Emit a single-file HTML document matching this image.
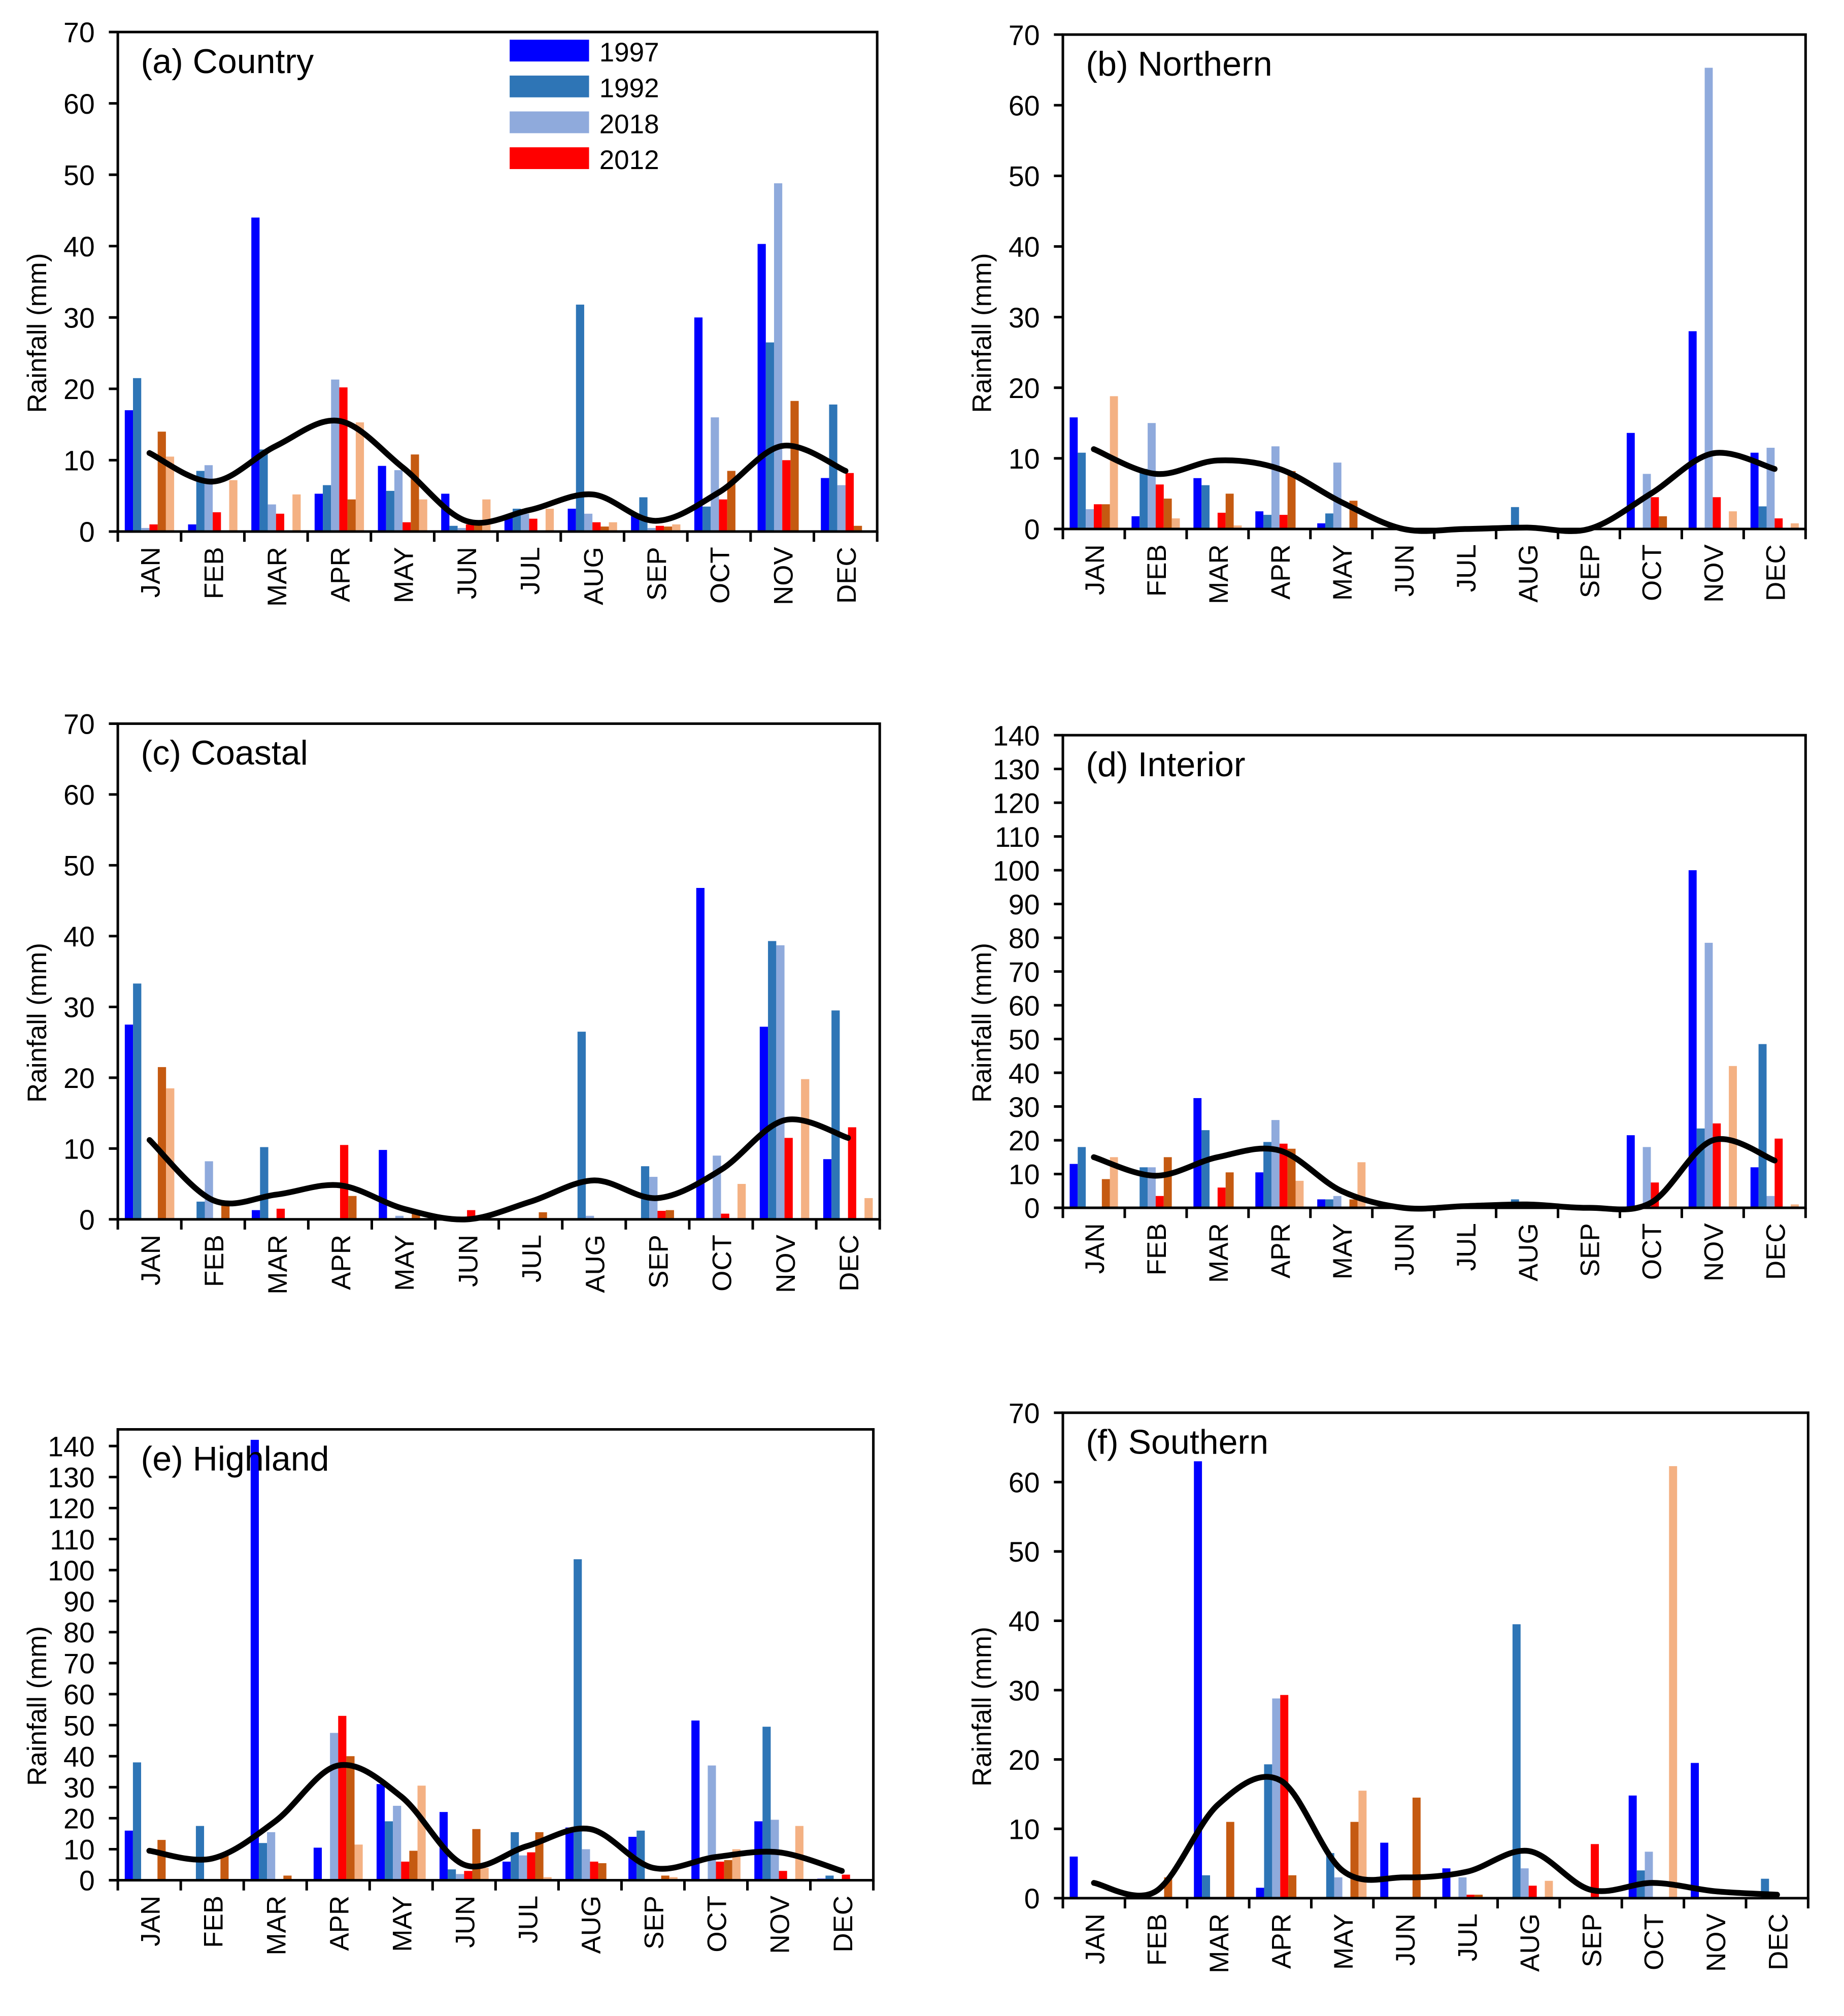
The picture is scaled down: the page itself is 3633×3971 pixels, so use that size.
<!DOCTYPE html>
<html><head><meta charset="utf-8">
<style>
html,body{margin:0;padding:0;background:#fff;}
svg{display:block;}
text{font-family:"Liberation Sans",sans-serif;fill:#000;}
</style></head>
<body>
<svg id="chart" xmlns="http://www.w3.org/2000/svg" width="3633" height="3971" viewBox="0 0 1440 1574" preserveAspectRatio="none">
<rect x="0" y="0" width="1440" height="1574" fill="#fff"/>
</svg>
<script>
const months = ["JAN","FEB","MAR","APR","MAY","JUN","JUL","AUG","SEP","OCT","NOV","DEC"];
const seriesColors = ["#0000FF","#2E75B6","#8FAADC","#FF0000","#C55A11","#F4B183"];
const legendLabels = ["1997","1992","2018","2012"];
const panelTitles = ["(a) Country","(b) Northern","(c) Coastal","(d) Interior","(e) Highland","(f) Southern"];

const countryBars = [[17,21.5,0.5,1,14,10.5],[1,8.5,9.3,2.7,0,7.2],[44,11.5,3.8,2.5,0,5.2],[5.3,6.5,21.3,20.2,4.5,15.3],[9.2,5.7,8.6,1.3,10.8,4.5],[5.3,0.8,0.5,1,1,4.5],[2,3.2,2.5,1.8,0,3.2],[3.2,31.8,2.5,1.3,0.7,1.3],[2.5,4.8,0.5,0.8,0.7,1],[30,3.5,16,4.5,8.5,0],[40.3,26.5,48.8,10,18.3,0],[7.5,17.8,6.5,8.2,0.8,0]];
const countryLine = [11,7,12,15.5,9,1.5,3,5.2,1.5,5.5,12,8.5];
const northernBars = [[15.8,10.8,2.8,3.5,3.5,18.8],[1.8,8.5,15,6.3,4.3,1.5],[7.2,6.2,0,2.3,5,0.5],[2.5,2,11.7,2,8.2,0],[0.8,2.2,9.4,0,4,0],[0,0,0,0,0,0],[0,0,0,0,0,0],[0,3.1,0,0,0,0],[0,0,0,0,0,0],[13.6,0,7.8,4.5,1.8,0],[28,0,65.3,4.5,0,2.5],[10.8,3.2,11.5,1.5,0,0.8]];
const northernLine = [11.3,7.8,9.7,8.5,3.8,0,0,0.2,0,5,10.7,8.5];
const coastalBars = [[27.5,33.3,0,0,21.5,18.5],[0,2.5,8.2,0,2.5,0],[1.3,10.2,0,1.5,0,0],[0,0,0,10.5,3.3,0],[9.8,0,0.5,0,1.3,0],[0,0,0,1.3,0,0],[0,0,0,0,1,0],[0,26.5,0.5,0,0,0],[0,7.5,6,1.2,1.3,0],[46.8,0,9,0.8,0,5],[27.2,39.3,38.7,11.5,0,19.8],[8.5,29.5,0,13,0,3]];
const coastalLine = [11.2,2.7,3.5,4.8,1.5,0,2.5,5.5,3,7,14,11.5];
const interiorBars = [[13,18,0,0,8.5,15],[0,12,12,3.5,15,0],[32.5,23,0,6,10.5,0],[10.5,19.5,26,19,17.5,8],[2.5,2.5,3.5,0,2.5,13.5],[0,0,0,0,0,0],[0,0,0,0,0,0],[0,2.5,0,0,0,0],[0,0,0,0,0,0],[21.5,0,18,7.5,0,0],[100,23.5,78.5,25,0,42],[12,48.5,3.5,20.5,0,1]];
const interiorLine = [15,9.5,15,17,5,0,0.5,1,0,1.5,20,14];
const highlandBars = [[16,38,0,0,13,0],[0,17.5,0,0,8,0],[142,12,15.5,0,1.5,0],[10.5,0,47.5,53,40,11.5],[31,19,24,6,9.5,30.5],[22,3.5,2,3,16.5,4],[6,15.5,8,9,15.5,1],[17,103.5,10,6,5.5,0],[14,16,0,0,1.5,1],[51.5,0,37,6,6.5,10],[19,49.5,19.5,3,0,17.5],[0.5,1.5,0,1.8,0,0]];
const highlandLine = [9.5,7,19,37,27,5,11,16.5,4,7.5,9,3];
const southernBars = [[6,0,0,0,0,0],[0,0.5,0,0,3,0],[63,3.3,0,0,11,0],[1.5,19.3,28.8,29.3,3.3,0],[0,6.5,3,0,11,15.5],[8,0,0,0,14.5,0],[4.3,0,3,0.5,0.5,0],[0,39.5,4.3,1.8,0,2.5],[0,0,0,7.8,0,0],[14.8,4,6.7,0,0,62.3],[19.5,0,0,0,0,0],[0,2.8,0,0,0,0]];
const southernLine = [2.2,1,13.5,17,4,3,3.8,6.8,1.2,2.2,1,0.5];

const panelBars = [countryBars,northernBars,coastalBars,interiorBars,highlandBars,southernBars];
const panelLines = [countryLine,northernLine,coastalLine,interiorLine,highlandLine,southernLine];
const panelMax = [70,70,70,140,140,70];

const layout = [
 {l:92,r:685,top:25,zero:415,maxY:25},
 {l:830,r:1410,top:27,zero:413,maxY:27},
 {l:92,r:687,top:565,zero:952,maxY:565},
 {l:830,r:1410,top:574,zero:943,maxY:574},
 {l:92,r:682,top:1116,zero:1468,maxY:1129},
 {l:830,r:1412,top:1103,zero:1482,maxY:1103}
];
const NS="http://www.w3.org/2000/svg";
const svg=document.getElementById('chart');
function mk(tag,attrs,parent){const e=document.createElementNS(NS,tag);for(const k in attrs)e.setAttribute(k,attrs[k]);(parent||svg).appendChild(e);return e;}

layout.forEach((L,p)=>{
  const g=mk('g',{});
  
  
  const max=panelMax[p];
  const y=v=>L.zero-(v/max)*(L.zero-L.maxY);
  const mw=(L.r-L.l)/12;
  const xc=i=>L.l+mw*(i+0.5);
  const bw=mw*0.13;
  panelBars[p].forEach((row,i)=>{
    row.forEach((v,s)=>{
      if(v<=0)return;
      const bx=L.l+mw*i+mw*0.11+s*bw;
      const r=mk('rect',{x:bx,y:y(v),width:bw,height:L.zero-y(v),fill:seriesColors[s]},g);
      
      
    });
  });
  const pts=panelLines[p].map((v,i)=>[xc(i),y(v)]);
  let d='M'+pts[0][0]+','+pts[0][1];
  for(let i=0;i<pts.length-1;i++){
    const p0=pts[Math.max(0,i-1)],p1=pts[i],p2=pts[i+1],p3=pts[Math.min(pts.length-1,i+2)];
    const c1=[p1[0]+(p2[0]-p0[0])/6,p1[1]+(p2[1]-p0[1])/6];
    const c2=[p2[0]-(p3[0]-p1[0])/6,p2[1]-(p3[1]-p1[1])/6];
    d+=' C'+c1[0]+','+c1[1]+' '+c2[0]+','+c2[1]+' '+p2[0]+','+p2[1];
  }
  const ln=mk('path',{d:d,fill:'none',stroke:'#000','stroke-width':4.5,'stroke-linecap':'round'},g);
  
  
  const fr=mk('rect',{x:L.l,y:L.top,width:L.r-L.l,height:L.zero-L.top,fill:'none',stroke:'#000','stroke-width':2},g);
  
  
  for(let v=0;v<=max;v+=10){
    mk('line',{x1:L.l-7,x2:L.l,y1:y(v),y2:y(v),stroke:'#000','stroke-width':2},g);
    const t=mk('text',{x:L.l-18,y:y(v)+8,'text-anchor':'end','font-size':22},g);
    t.textContent=v;
    
    
  }
  for(let i=0;i<=12;i++){
    const tx=L.l+mw*i;
    mk('line',{x1:tx,x2:tx,y1:L.zero,y2:L.zero+8,stroke:'#000','stroke-width':2},g);
  }
  months.forEach((m,i)=>{
    const t=mk('text',{x:0,y:0,'text-anchor':'end','font-size':21,transform:'translate('+(xc(i)+8)+','+(L.zero+12)+') rotate(-90)'},g);
    t.textContent=m;
    
    
  });
  const yt=mk('text',{x:0,y:0,'text-anchor':'middle','font-size':21,transform:'translate('+(L.l-56)+','+((L.top+L.zero)/2+40)+') rotate(-90)'},g);
  yt.textContent='Rainfall (mm)';
  
  
  const tt=mk('text',{x:L.l+18,y:L.top+32,'font-size':27},g);
  tt.textContent=panelTitles[p];
  
  
});
const lg=mk('g',{});


legendLabels.forEach((lab,i)=>{
  const ly=40+i*28;
  mk('rect',{x:398,y:ly-9,width:62,height:17,fill:seriesColors[i]},lg);
  const t=mk('text',{x:468,y:ly+8,'font-size':21},lg);
  t.textContent=lab;
  
  
});
</script>
</body></html>
